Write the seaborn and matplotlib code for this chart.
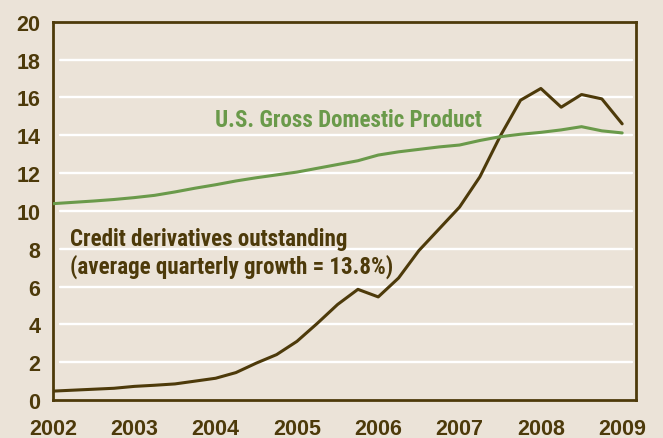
import numpy as np
import pandas as pd
import matplotlib
matplotlib.use("Agg")
import matplotlib.pyplot as plt
from matplotlib import font_manager as fm
import seaborn as sns

# Quarterly observations, 2002Q1 .. 2009Q1
quarters = [2002 + 0.25 * i for i in range(29)]
credit_derivatives = [0.47, 0.52, 0.57, 0.62, 0.72, 0.78, 0.85, 1.00,
                      1.15, 1.45, 1.95, 2.40, 3.10, 4.05, 5.05, 5.85,
                      5.45, 6.45, 7.90, 9.05, 10.20, 11.80, 13.95, 15.85,
                      16.47, 15.48, 16.15, 15.92, 14.60]
us_gdp = [10.38, 10.45, 10.52, 10.60, 10.70, 10.82, 11.00, 11.20,
          11.38, 11.58, 11.75, 11.90, 12.05, 12.25, 12.45, 12.65,
          12.95, 13.12, 13.25, 13.38, 13.48, 13.72, 13.92, 14.05,
          14.15, 14.28, 14.45, 14.23, 14.12]
year_ticks = [2002, 2003, 2004, 2005, 2006, 2007, 2008, 2009]
y_ticks = [0, 2, 4, 6, 8, 10, 12, 14, 16, 18, 20]

BG = "#ebe3d8"
BROWN = "#4d3a0a"
GREEN = "#6a9a4a"

sns.set_style("white")
plt.rcParams["font.family"] = ["Liberation Sans", "DejaVu Sans"]


def find_condensed_bold():
    prefs = ["liberationsansnarrow-bold.", "robotocondensed-bold.",
             "notosans-condensedbold.", "dejavusanscondensed-bold.",
             "opensans-condensedbold.", "opensanscondensed-bold."]
    files = [f.fname for f in fm.fontManager.ttflist]
    low = {f.lower().split("/")[-1]: f for f in files}
    for p in prefs:
        for name, path in low.items():
            if name.startswith(p):
                return fm.FontProperties(fname=path)
    for name, path in low.items():
        if ("condensed" in name or "narrow" in name) and "bold" in name \
                and "semi" not in name and "extra" not in name and "italic" not in name \
                and "oblique" not in name:
            return fm.FontProperties(fname=path)
    return None


cprop = find_condensed_bold()

df = pd.DataFrame({"quarter": quarters * 2,
                   "value": credit_derivatives + us_gdp,
                   "series": ["cd"] * len(quarters) + ["gdp"] * len(quarters)})

fig = plt.figure(figsize=(6.63, 4.39), dpi=100, facecolor=BG)
ax = fig.add_axes([53 / 663, 1 - 401 / 439, (636 - 53) / 663, (401 - 22.7) / 439])
ax.set_facecolor(BG)

for yv in y_ticks[1:-1]:
    ax.axhline(yv, xmin=0.012, xmax=0.993, color="white", lw=1.7, zorder=0.5)

sns.lineplot(data=df, x="quarter", y="value", hue="series",
             palette={"cd": BROWN, "gdp": GREEN}, linewidth=2.2,
             legend=False, ax=ax, zorder=3)

ax.set_xlim(2002, 2009.17)
ax.set_ylim(0, 20)
ax.set_xticks(year_ticks)
ax.set_xticklabels([str(y) for y in year_ticks])
ax.set_yticks(y_ticks)
ax.set_xlabel("")
ax.set_ylabel("")

for s in ax.spines.values():
    s.set_visible(True)
    s.set_color(BROWN)
    s.set_linewidth(2.0)

ax.tick_params(axis="both", direction="in", length=6, width=2.0, color=BROWN,
               labelcolor=BROWN, labelsize=15.5)
ax.tick_params(axis="x", pad=13)
ax.tick_params(axis="y", pad=9)
for lab in ax.get_xticklabels() + ax.get_yticklabels():
    lab.set_fontweight("bold")

if cprop is not None:
    cprop.set_size(16.6)
    tkw = dict(fontproperties=cprop)
else:
    tkw = dict(fontsize=12, fontweight="bold")

ax.text(2007.28, 14.85, "U.S. Gross Domestic Product", color=GREEN,
        ha="right", va="center", **tkw)
ax.text(2002.21, 7.8, "Credit derivatives outstanding\n(average quarterly growth = 13.8%)",
        color=BROWN, ha="left", va="center", linespacing=1.15, **tkw)

fig.savefig("out.png", dpi=100, facecolor=BG)
